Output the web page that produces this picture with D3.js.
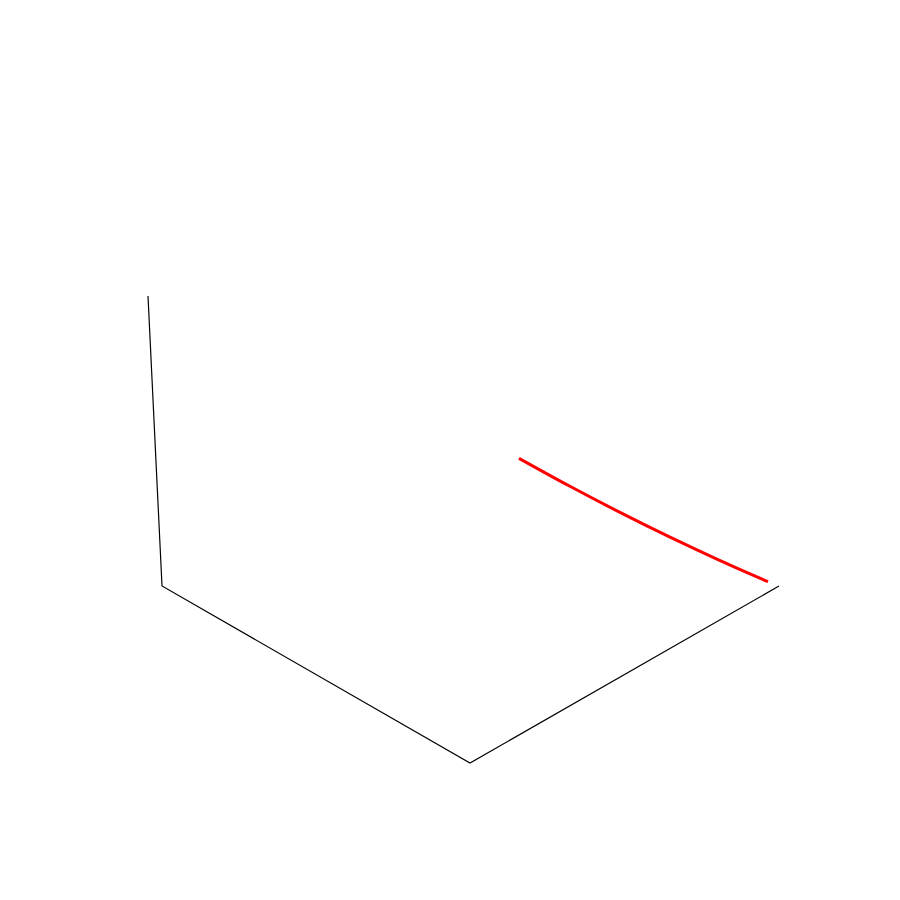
<!DOCTYPE html>
<html>
<head>
<meta charset="utf-8">
<script src="https://cdn.jsdelivr.net/npm/d3@7"></script>
<style>
html,body{margin:0;padding:0;background:#fff;}
svg{display:block;}
</style>
</head>
<body>
<svg id="chart" width="900" height="900"></svg>
<script>
// 3D box axes (data coordinates)
const axisDomainX = [0, 1];
const axisDomainY = [0, 1];
const axisDomainZ = [0, 1];

// Red curve samples (x held at the far face)
const curveX = [1, 1, 1, 1, 1, 1];
const curveY = [0.2006, 0.3539, 0.5074, 0.6611, 0.8150, 0.9660];
const curveZ = [0.9282, 0.7399, 0.5562, 0.3769, 0.2022, 0.0356];

const svg = d3.select("#chart");

// Scales mapping each data axis to unit fractions
const sx = d3.scaleLinear().domain(axisDomainX).range([0, 1]);
const sy = d3.scaleLinear().domain(axisDomainY).range([0, 1]);
const sz = d3.scaleLinear().domain(axisDomainZ).range([0, 1]);

// Projection basis (screen space)
const origin = [162, 586];
const ex = [308, 177];
const ey = [309, -177];
const ez = [-14, -290];

function project(x, y, z) {
  const u = sx(x), v = sy(y), w = sz(z);
  return [origin[0] + u * ex[0] + v * ey[0] + w * ez[0],
          origin[1] + u * ex[1] + v * ey[1] + w * ez[1]];
}

const line = d3.line().x(d => d[0]).y(d => d[1]);

// Axis lines
const axisPath = [
  project(axisDomainX[0], axisDomainY[0], axisDomainZ[1]),
  project(axisDomainX[0], axisDomainY[0], axisDomainZ[0]),
  project(axisDomainX[1], axisDomainY[0], axisDomainZ[0]),
  project(axisDomainX[1], axisDomainY[1], axisDomainZ[0])
];
svg.append("path")
  .attr("d", line(axisPath))
  .attr("fill", "none")
  .attr("stroke", "#000")
  .attr("stroke-width", 1.2);

// Curve
const pts = curveX.map((x, i) => project(x, curveY[i], curveZ[i]));
svg.append("path")
  .attr("d", d3.line().x(d => d[0]).y(d => d[1]).curve(d3.curveCatmullRom)(pts))
  .attr("fill", "none")
  .attr("stroke", "#ff0000")
  .attr("stroke-width", 3);
</script>
</body>
</html>
